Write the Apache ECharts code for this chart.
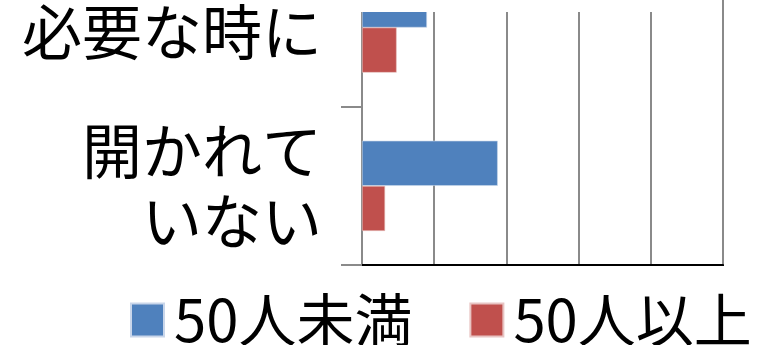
<!DOCTYPE html>
<html>
<head>
<meta charset="utf-8">
<script src="https://cdn.jsdelivr.net/npm/echarts@6/dist/echarts.min.js"></script>
<style>
  html, body { margin: 0; padding: 0; background: #fff; }
  #chart { width: 758px; height: 345px; }
</style>
</head>
<body>
<div id="chart"></div>
<script>
// Categories listed bottom-up along the vertical axis
const categories = ['開かれて\nいない', '必要な時に'];
const seriesNames = ['50人未満', '50人以上'];
const under50 = [18.8, 9.0];
const over50 = [3.2, 4.8];
const valueMax = 50;
const valueStep = 10;

const FONT = '"Noto Sans CJK JP", "Noto Sans", sans-serif';
const chart = echarts.init(document.getElementById('chart'));

chart.setOption({
  backgroundColor: '#ffffff',
  animation: false,
  grid: {
    left: 362, right: 35, top: -51.6, bottom: 80,
    show: true, borderColor: '#000000', borderWidth: 2,
    containLabel: false,
    outerBoundsMode: 'none'
  },
  legend: {
    data: seriesNames,
    left: 130, top: 291, padding: 0,
    itemWidth: 33, itemHeight: 33, itemGap: 57,
    icon: 'rect',
    textStyle: { fontFamily: FONT, fontSize: 58, color: '#000', lineHeight: 57, padding: [0, 0, 0, 5] }
  },
  xAxis: {
    type: 'value', min: 0, max: valueMax, interval: valueStep,
    axisLine: { show: true, lineStyle: { color: '#000', width: 2 } },
    axisTick: { show: false },
    axisLabel: { show: false },
    splitLine: { show: true, lineStyle: { color: '#8a8a8a', width: 2 } }
  },
  yAxis: {
    type: 'category',
    data: categories,
    axisLine: { show: true, lineStyle: { color: '#8a8a8a', width: 2 } },
    axisTick: { show: true, length: 21, lineStyle: { color: '#8a8a8a', width: 2 } },
    axisLabel: {
      fontFamily: FONT, fontSize: 60, lineHeight: 70, color: '#000',
      margin: 40, align: 'right',
      // single-line label sits a little lower than its band centre
      formatter: (v) => v.indexOf('\n') < 0 ? '{low|' + v + '}' : v,
      rich: {
        low: { fontFamily: FONT, fontSize: 60, lineHeight: 70, color: '#000', padding: [10, 0, 0, 0] }
      }
    }
  },
  series: [
    {
      name: seriesNames[0], type: 'bar', data: under50,
      barGap: '0%', barCategoryGap: '43%',
      itemStyle: { color: '#4F81BD', borderColor: '#c9d6ea', borderWidth: 0.6 }
    },
    {
      name: seriesNames[1], type: 'bar', data: over50,
      barGap: '0%', barCategoryGap: '43%',
      itemStyle: { color: '#C0504D', borderColor: '#e8c4c3', borderWidth: 0.6 }
    }
  ],
  graphic: [
    {
      // blank header strip above the plot
      type: 'rect', z: 100,
      shape: { x: 330, y: 0, width: 391, height: 12 },
      style: { fill: '#ffffff' }
    }
  ]
});
</script>
</body>
</html>
